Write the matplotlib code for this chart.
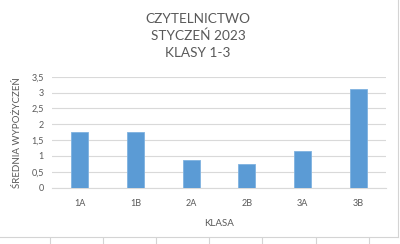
import matplotlib
matplotlib.use("Agg")
import matplotlib.pyplot as plt
from matplotlib.lines import Line2D

plt.rcParams['font.family'] = ['Lato', 'DejaVu Sans']

# data
klasy = ["1A", "1B", "2A", "2B", "3A", "3B"]
srednia = [1.75, 1.75, 0.875, 0.75, 1.16, 3.1]
y_ticks = [0, 0.5, 1, 1.5, 2, 2.5, 3, 3.5]
y_labels = ["0", "0,5", "1", "1,5", "2", "2,5", "3", "3,5"]

grey = "#595959"
W, H = 400, 244

fig = plt.figure(figsize=(4, 2.44), dpi=100)
ax = fig.add_axes([52 / W, 1 - 187.7 / H, 334 / W, 111 / H])

x = range(len(klasy))
ax.bar(x, srednia, width=0.3, color="#5B9BD5", edgecolor="#7FB2E0", linewidth=0.6, zorder=3)

ax.set_xlim(-0.5, len(klasy) - 0.5)
ax.set_ylim(0, 3.5)
ax.set_yticks(y_ticks)
ax.set_yticklabels(y_labels)
ax.set_xticks(list(x))
ax.set_xticklabels(klasy)
ax.tick_params(length=0, labelsize=6.5, colors=grey, pad=6)
ax.tick_params(axis="x", pad=8)
ax.grid(axis="y", color="#D9D9D9", linewidth=0.8, zorder=0)
for s in ["top", "right", "left"]:
    ax.spines[s].set_visible(False)
ax.spines["bottom"].set_color("#D9D9D9")
ax.spines["bottom"].set_linewidth(0.8)

ax.set_xlabel("KLASA", fontsize=7, color=grey, labelpad=8)
fig.text(18 / W, 1 - 133 / H, "ŚREDNIA WYPOŻYCZEŃ", rotation=90, fontsize=7,
         color=grey, ha="center", va="center")

fig.text(198 / W, 1 - 36 / H, "CZYTELNICTWO\nSTYCZEŃ 2023\nKLASY 1-3", fontsize=9.8,
         color=grey, ha="center", va="center", linespacing=1.45)

# spreadsheet cell borders around the chart
line_c = "#D4D4D4"
fig.add_artist(Line2D([0, 398 / W], [1 - 236.7 / H] * 2, color=line_c, lw=0.8))
fig.add_artist(Line2D([398 / W] * 2, [1 - 236.7 / H, 1], color=line_c, lw=0.8))
for cx in [50, 103, 156, 209, 262, 316, 369]:
    fig.add_artist(Line2D([cx / W] * 2, [0, 1 - 238 / H], color=line_c, lw=0.8))

fig.savefig("out.png", dpi=100)
